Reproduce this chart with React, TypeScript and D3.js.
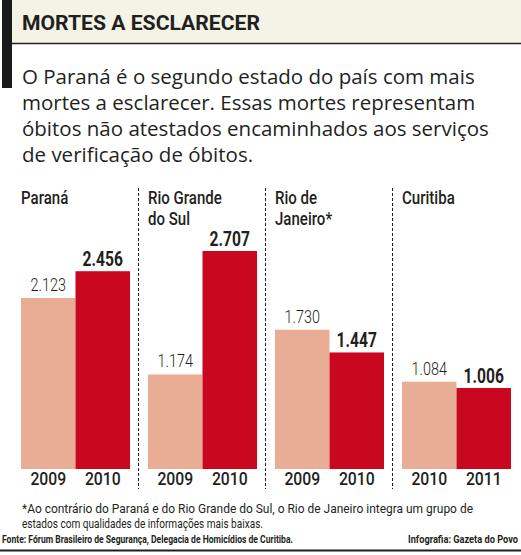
import React from 'react';
import * as d3 from 'd3';

// dados
const panels = ['Paraná', 'Rio Grande do Sul', 'Rio de Janeiro*', 'Curitiba'];
const headerLines = [['Paraná'], ['Rio Grande', 'do Sul'], ['Rio de', 'Janeiro*'], ['Curitiba']];
const years = [
  ['2009', '2010'],
  ['2009', '2010'],
  ['2009', '2010'],
  ['2010', '2011'],
];
const firstValues = [2123, 1174, 1730, 1084];
const secondValues = [2456, 2707, 1447, 1006];

const intro = [
  'O Paraná é o segundo estado do país com mais',
  'mortes a esclarecer. Essas mortes representam',
  'óbitos não atestados encaminhados aos serviços',
  'de verificação de óbitos.',
];
const footnote = [
  '*Ao contrário do Paraná e do Rio Grande do Sul, o Rio de Janeiro integra um grupo de',
  'estados com qualidades de informações mais baixas.',
];
const footnoteWidths = [451, 241];

const W = 521;
const H = 555;
const cond = 'Roboto, "Noto Sans", sans-serif';
const sans = '"Open Sans", "Noto Sans", sans-serif';
const ink = '#231f20';

const fmt = d3.formatLocale({ decimal: ',', thousands: '.', grouping: [3], currency: ['R$', ''] }).format(',d');

// texto "condensado" com escala horizontal
const Narrow = ({ x, y, sx, children, ...rest }: any) => (
  <text transform={`translate(${x},${y}) scale(${sx},1)`} fill={ink} {...rest}>
    {children}
  </text>
);

export default function App() {
  const base = 469;
  const y = d3.scaleLinear().domain([0, d3.max(secondValues)!]).range([base, 251]);
  const px = d3.scaleBand().domain(panels).range([11, 519]);
  const bx = d3.scaleBand().domain(['a', 'b']).range([0, 109]);

  return (
    <div style={{ position: 'absolute', left: 0, top: 0 }}>
      <svg width={W} height={H} style={{ display: 'block', background: '#fff' }}>
        <rect x={12} y={0} width={W - 12} height={43} fill="#f3f4e5" />
        <line x1={12} x2={W} y1={43.5} y2={43.5} stroke={ink} strokeWidth={1.5} />
        <rect x={2} y={0} width={10} height={88} fill="#1a1a1a" />
        <text x={22} y={30} fontFamily={cond} fontWeight="bold" fontSize={21} fill={ink} textLength={238} lengthAdjust="spacingAndGlyphs">
          MORTES A ESCLARECER
        </text>
        {intro.map((t, i) => (
          <text key={i} x={22} y={84 + i * 26} fontFamily={sans} fontSize={20.5} fill={ink}>
            {t}
          </text>
        ))}

        {panels.map((p, i) => {
          const x0 = px(p)! + 10;
          const v = [firstValues[i], secondValues[i]];
          return (
            <g key={p}>
              {i > 0 && (
                <line x1={px(p)! + 0.5} x2={px(p)! + 0.5} y1={188} y2={489} stroke={ink} strokeWidth={1} strokeDasharray="3,2" />
              )}
              {headerLines[i].map((l, j) => (
                <Narrow key={j} x={x0} y={204 + j * 21} sx={0.86} fontFamily={cond} fontWeight={500} fontSize={17.5}>
                  {l}
                </Narrow>
              ))}
              {['a', 'b'].map((k, j) => {
                const cx = x0 + bx(k)! + bx.bandwidth() / 2;
                return (
                  <g key={k}>
                    <rect
                      x={x0 + bx(k)!}
                      y={y(v[j])}
                      width={bx.bandwidth()}
                      height={base - y(v[j])}
                      fill={j === 0 ? '#e9ad95' : '#c9081f'}
                    />
                    <Narrow
                      x={cx}
                      y={y(v[j]) - (j === 0 ? 7 : 5)}
                      sx={0.8}
                      textAnchor="middle"
                      fontFamily={cond}
                      fontWeight={j === 0 ? 300 : 'bold'}
                      fontSize={j === 0 ? 18 : 19.5}
                    >
                      {fmt(v[j])}
                    </Narrow>
                    <Narrow x={cx} y={485} sx={0.9} textAnchor="middle" fontFamily={cond} fontWeight={500} fontSize={17.5}>
                      {years[i][j]}
                    </Narrow>
                  </g>
                );
              })}
            </g>
          );
        })}

        {footnote.map((t, i) => (
          <text
            key={i}
            x={22}
            y={513 + i * 15}
            fontFamily={cond}
            fontSize={13.5}
            fill={ink}
            textLength={footnoteWidths[i]}
            lengthAdjust="spacingAndGlyphs"
          >
            {t}
          </text>
        ))}
        <text x={2} y={543} fontFamily={cond} fontWeight="bold" fontSize={10.5} fill={ink} textLength={291} lengthAdjust="spacingAndGlyphs">
          Fonte: Fórum Brasileiro de Segurança, Delegacia de Homicídios de Curitiba.
        </text>
        <text x={408} y={543} fontFamily={cond} fontWeight="bold" fontSize={10.5} fill={ink} textLength={110} lengthAdjust="spacingAndGlyphs">
          Infografia: Gazeta do Povo
        </text>
        <line x1={0} x2={W} y1={550.5} y2={550.5} stroke={ink} strokeWidth={2} />
      </svg>
    </div>
  );
}
